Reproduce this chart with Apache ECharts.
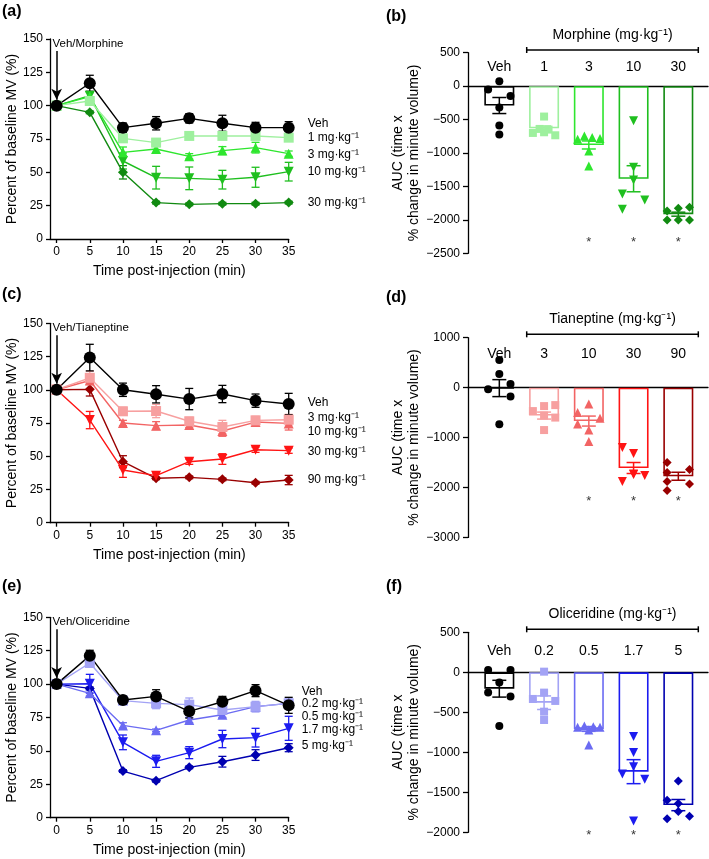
<!DOCTYPE html>
<html><head><meta charset="utf-8">
<script src="https://cdn.jsdelivr.net/npm/echarts@6/dist/echarts.min.js"></script>
<style>html,body{margin:0;padding:0;background:#fff}#c{width:709px;height:859px}</style>
</head><body><div id="c"></div>
<script>
// ================= DATA =================
const times = [0, 5, 10, 15, 20, 25, 30, 35];
const timeTicks = [0, 5, 10, 15, 20, 25, 30, 35];

// Panel (a) Morphine time course
const morphNames = ['Veh', '1 mg·kg⁻¹', '3 mg·kg⁻¹', '10 mg·kg⁻¹', '30 mg·kg⁻¹'];
const morphVeh  = [100, 116.8, 83.5, 86.8, 90.5, 86.8, 83.5, 83.5];
const morph1    = [100, 103.5, 75.5, 72.3, 77.3, 77.3, 77.3, 76];
const morph3    = [100, 106.8, 65, 67.5, 62, 66.3, 68.5, 64];
const morph10   = [100, 107.5, 58.5, 46, 45.5, 44.5, 46.3, 50.5];
const morph30   = [100, 95, 50, 27.3, 26, 26.5, 26.5, 27.3];
const morphVehSem = [0, 6, 3.5, 5, 3.5, 6, 4, 4.5];
const morph1Sem   = [0, 3, 3, 3, 2, 2, 2, 2];
const morph3Sem   = [0, 3, 4, 3, 2, 3, 4, 2];
const morph10Sem  = [0, 3, 6, 8.5, 8.5, 7, 7.5, 7];
const morph30Sem  = [0, 1, 5, 1, 1, 1, 1, 1];

// Panel (c) Tianeptine time course
const tianNames = ['Veh', '3 mg·kg⁻¹', '10 mg·kg⁻¹', '30 mg·kg⁻¹', '90 mg·kg⁻¹'];
const tianVeh = [100, 124.2, 100, 96.6, 93, 96.8, 91.8, 89.3];
const tian3   = [100, 109, 83.8, 84, 76.3, 72, 77, 77.5];
const tian10  = [100, 107, 75, 73, 73.5, 69, 75.7, 74.7];
const tian30  = [100, 77.2, 39.6, 35.4, 45.9, 47.9, 54.9, 54.2];
const tian90  = [100, 100.3, 45.9, 33.4, 34.1, 32.6, 30.1, 32.1];
const tianVehSem = [0, 10, 5, 6.5, 8, 6.5, 5, 8];
const tian3Sem   = [0, 5, 3, 5, 3, 5, 3, 4];
const tian10Sem  = [0, 3, 2, 3, 2, 4, 2, 5];
const tian30Sem  = [0, 6.5, 5.5, 2, 2, 4, 2, 2];
const tian90Sem  = [0, 5, 4.5, 1, 1, 1, 1, 3.5];

// Panel (e) Oliceridine time course
const oliNames = ['Veh', '0.2 mg·kg⁻¹', '0.5 mg·kg⁻¹', '1.7 mg·kg⁻¹', '5 mg·kg⁻¹'];
const oliVeh = [100, 121.3, 88.1, 90.8, 79.6, 86.8, 95.1, 84.1];
const oli02  = [100, 115.8, 87.6, 85.6, 84.6, 80.6, 83.1, 85.6];
const oli05  = [100, 93.1, 69.1, 65.4, 73.1, 77.1, 83.1, 85.6];
const oli17  = [100, 100.3, 56.4, 42.2, 48.7, 58.9, 59.9, 66.9];
const oli5   = [100, 96.8, 34.9, 27.7, 37.7, 41.9, 46.9, 52.4];
const oliVehSem = [0, 4, 3, 5, 5, 4, 4.5, 6];
const oli02Sem  = [0, 3, 3, 4, 5, 3, 4, 4];
const oli05Sem  = [0, 2, 2, 1, 2, 2, 2, 2];
const oli17Sem  = [0, 7, 5.5, 4.5, 4.5, 6.5, 7, 9];
const oli5Sem   = [0, 1, 1, 1, 1, 4, 4, 3];

// Panel (b) Morphine AUC
const morphCats = ['Veh', '1', '3', '10', '30'];
const morphAucMean = [-290, -630, -880, -1385, -1915];
const morphAucSem  = [120, 35, 60, 195, 30];
const morphAucPts = [
  [73, -49, -147, -318, -588, -725],
  [-455, -640, -650, -700, -690, -735],
  [-794, -745, -770, -784, -970, -1195],
  [-516, -1214, -1403, -1613, -1842, -1703],
  [-1867, -1827, -1812, -2001, -2001, -2001]];
const morphSig = ['', '', '*', '*', '*'];

// Panel (d) Tianeptine AUC
const tianCats = ['Veh', '3', '10', '30', '90'];
const tianAucMean = [-10, -560, -670, -1610, -1775];
const tianAucSem  = [170, 70, 100, 110, 80];
const tianAucPts = [
  [554, 274, -33, 73, -180, -734],
  [-470, -370, -350, -560, -600, -850],
  [-500, -327, -614, -727, -848, -1081],
  [-1200, -1320, -1880, -1730, -1760, -1740],
  [-1500, -1640, -1700, -1880, -1930, -2060]];
const tianSig = ['', '', '*', '*', '*'];

// Panel (f) Oliceridine AUC
const oliCats = ['Veh', '0.2', '0.5', '1.7', '5'];
const oliAucMean = [-205, -380, -708, -1242, -1660];
const oliAucSem  = [105, 85, 30, 150, 70];
const oliAucPts = [
  [29, 29, -129, -254, -304, -671],
  [8, -254, -333, -358, -492, -596],
  [-688, -670, -680, -688, -721, -908],
  [-804, -1004, -1180, -1271, -1338, -1858],
  [-1358, -1600, -1640, -1740, -1830, -1800]];
const oliSig = ['', '', '*', '*', '*'];

// ================= LAYOUT / STYLE =================
const FONT = '"Liberation Sans", Arial, Helvetica, sans-serif';
const SYMBOLS = ['circle', 'rect', 'triangle', 'triangle', 'diamond'];
const ROTATE  = [0, 0, 0, 180, 0];
const SYM_SIZE_LINE = [12, 10, 10, 10, 10];
const SYM_SIZE_DOT  = [8, 8, 9, 9, 9];
const GREEN = ['#000000', '#9ef09e', '#2ee62e', '#1fbf1f', '#118a11'];
const RED   = ['#000000', '#f7a0a0', '#f26464', '#ff1414', '#990000'];
const BLUE  = ['#000000', '#a3a3f5', '#6b6bf2', '#1c1cf0', '#0000b0'];

// jitter of individual dots (in units of ~11px)
const JIT_B = [[0,-1,1,0,0,0],[0,-0.4,0.4,-1,0,1],[-1,-0.4,0.3,1,0,0],[0,0,0,-1,-1,1],[-1,0,1,-1,0,1]];
const JIT_D = [[0,0,-1,1,1,0],[-1,0,1,0,1,0],[-1,0,1,-1,0,0],[-1,0,-1,0,1,0],[-1,1,-1,-1,1,-1]];
const JIT_F = [[-1,1,0,-1,1,0],[0,0,-1,1,0,0],[-1,-0.4,0.4,1,0,0],[0,0,0,-1,1,0],[0,-1,0,0,-1,1]];

const LINE_W = 238.7;
const LINE_GRIDS = [
  {left: 50, top: 39, height: 200},
  {left: 50, top: 323.3, height: 199.4},
  {left: 50, top: 617.3, height: 200.4}];
const BAR_W = 240, BAR_STEP = 44.75, BAR_MIN = -0.7;
const BAR_GRIDS = [
  {left: 468, top: 52.7, height: 200.6, min: -2500, max: 500, interval: 500, labelMargin: 7, sigY: -2341},
  {left: 468, top: 337.7, height: 199.7, min: -3000, max: 1000, interval: 1000, labelMargin: 9, sigY: -2285},
  {left: 468, top: 632.3, height: 200, min: -2000, max: 500, interval: 500, labelMargin: 12, sigY: -2042}];
const ARROW = [141, 104.5];
const END_LABEL_DY = [
  [-4, 0, 1, 0, 0],
  [-1, -2, 8, 1, 0],
  [-14, 0, 13, 1, -2]];
const END_LABEL_DIST = [19, 19, 13];

// ================= BUILD =================
const chart = echarts.init(document.getElementById('c'), null, {renderer: 'canvas'});
const axisLineStyle = {color: '#000', width: 1.3};
const txt = (size, extra) => Object.assign({color: '#000', fontSize: size, fontFamily: FONT}, extra || {});

const grids = [], xAxes = [], yAxes = [], series = [];

const linePanels = [
  {means: [morphVeh, morph1, morph3, morph10, morph30], sems: [morphVehSem, morph1Sem, morph3Sem, morph10Sem, morph30Sem], names: morphNames, colors: GREEN},
  {means: [tianVeh, tian3, tian10, tian30, tian90], sems: [tianVehSem, tian3Sem, tian10Sem, tian30Sem, tian90Sem], names: tianNames, colors: RED},
  {means: [oliVeh, oli02, oli05, oli17, oli5], sems: [oliVehSem, oli02Sem, oli05Sem, oli17Sem, oli5Sem], names: oliNames, colors: BLUE}];

function errRender(colors, capHalf, lw) {
  return function (params, api) {
    const x = api.value(0), m = api.value(1), s = api.value(2), k = api.value(3);
    if (!s) return null;
    const t = api.coord([x, m + s]), b = api.coord([x, m - s]);
    const st = {stroke: colors[k], lineWidth: lw};
    return {type: 'group', children: [
      {type: 'line', shape: {x1: t[0], y1: t[1], x2: b[0], y2: b[1]}, style: st},
      {type: 'line', shape: {x1: t[0] - capHalf, y1: t[1], x2: t[0] + capHalf, y2: t[1]}, style: st},
      {type: 'line', shape: {x1: b[0] - capHalf, y1: b[1], x2: b[0] + capHalf, y2: b[1]}, style: st}]};
  };
}

linePanels.forEach((p, pi) => {
  const g = LINE_GRIDS[pi];
  const gi = grids.length;
  grids.push({left: g.left, top: g.top, width: LINE_W, height: g.height});
  const xi = xAxes.length;
  xAxes.push({gridIndex: gi, type: 'value', min: -1, max: 35,
    axisLine: {show: true, onZero: false, lineStyle: axisLineStyle},
    axisTick: {show: true, customValues: timeTicks, length: 4, lineStyle: axisLineStyle},
    axisLabel: {customValues: timeTicks, margin: 7, ...txt(12)},
    splitLine: {show: false},
    name: 'Time post-injection (min)', nameLocation: 'middle', nameGap: 25, nameTextStyle: txt(14)});
  const yi = yAxes.length;
  yAxes.push({gridIndex: gi, type: 'value', min: 0, max: 150, interval: 25,
    axisLine: {show: true, onZero: false, lineStyle: axisLineStyle},
    axisTick: {show: true, length: 4, lineStyle: axisLineStyle},
    axisLabel: {margin: 7, ...txt(12)},
    splitLine: {show: false},
    name: 'Percent of baseline MV (%)', nameLocation: 'middle', nameGap: 31, nameTextStyle: txt(14)});
  for (let k = p.means.length - 1; k >= 0; k--) {
    series.push({type: 'custom', xAxisIndex: xi, yAxisIndex: yi, z: 2, silent: true,
      renderItem: errRender(p.colors, 4, 1.3),
      data: times.map((t, i) => [t, p.means[k][i], p.sems[k][i], k])});
  }
  for (let k = p.means.length - 1; k >= 0; k--) {
    const s = {type: 'line', name: p.names[k], xAxisIndex: xi, yAxisIndex: yi, z: 3,
      data: times.map((t, i) => [t, p.means[k][i]]),
      symbol: SYMBOLS[k], symbolRotate: ROTATE[k], symbolSize: SYM_SIZE_LINE[k],
      lineStyle: {color: p.colors[k], width: 1.4}, itemStyle: {color: p.colors[k]},
      animation: false, silent: true,
      endLabel: {show: true, formatter: p.names[k], distance: END_LABEL_DIST[pi],
        offset: [0, END_LABEL_DY[pi][k]], ...txt(12)}};
    if (k === 0) {
      s.markLine = {silent: true, symbol: ['none', 'arrow'], symbolSize: [8, 11], animation: false,
        lineStyle: {color: '#000', width: 1.5, type: 'solid'}, label: {show: false},
        data: [[{coord: [0, ARROW[0]]}, {coord: [0, ARROW[1]]}]]};
    }
    series.push(s);
  }
});

const barPanels = [
  {cats: morphCats, mean: morphAucMean, sem: morphAucSem, pts: morphAucPts, sig: morphSig, jit: JIT_B, colors: GREEN},
  {cats: tianCats, mean: tianAucMean, sem: tianAucSem, pts: tianAucPts, sig: tianSig, jit: JIT_D, colors: RED},
  {cats: oliCats, mean: oliAucMean, sem: oliAucSem, pts: oliAucPts, sig: oliSig, jit: JIT_F, colors: BLUE}];

const minus = v => String(v).replace('-', '\u2212');

barPanels.forEach((p, pi) => {
  const g = BAR_GRIDS[pi];
  const gi = grids.length;
  grids.push({left: g.left, top: g.top, width: BAR_W, height: g.height});
  const xi = xAxes.length;
  xAxes.push({gridIndex: gi, type: 'value', min: BAR_MIN, max: BAR_MIN + BAR_W / BAR_STEP,
    axisLine: {show: true, onZero: true, lineStyle: axisLineStyle},
    axisTick: {show: false}, axisLabel: {show: false}, splitLine: {show: false}});
  // category labels along the top of the panel
  xAxes.push({gridIndex: gi, type: 'value', position: 'top', min: BAR_MIN, max: BAR_MIN + BAR_W / BAR_STEP,
    axisLine: {show: false}, axisTick: {show: false},
    axisLabel: {inside: true, customValues: [0, 1, 2, 3, 4], formatter: v => p.cats[Math.round(v)],
      margin: g.labelMargin, ...txt(14)},
    splitLine: {show: false}});
  const yi = yAxes.length;
  yAxes.push({gridIndex: gi, type: 'value', min: g.min, max: g.max, interval: g.interval,
    axisLine: {show: true, onZero: false, lineStyle: axisLineStyle},
    axisTick: {show: true, length: 5, lineStyle: axisLineStyle},
    axisLabel: {margin: 8, formatter: minus, ...txt(12)},
    splitLine: {show: false},
    name: 'AUC (time x\n% change in minute volume)', nameLocation: 'middle', nameGap: 44,
    nameTextStyle: txt(14, {lineHeight: 16})});
  series.push({type: 'bar', xAxisIndex: xi, yAxisIndex: yi, barWidth: 30, z: 2, silent: true, animation: false,
    data: p.mean.map((m, i) => ({value: [i, m], itemStyle: {color: '#fff', borderColor: p.colors[i], borderWidth: 1.6}}))});
  p.pts.forEach((arr, i) => {
    series.push({type: 'scatter', xAxisIndex: xi, yAxisIndex: yi, z: 3, silent: true, animation: false,
      symbol: SYMBOLS[i], symbolRotate: ROTATE[i], symbolSize: SYM_SIZE_DOT[i],
      itemStyle: {color: p.colors[i], opacity: 1},
      data: arr.map((v, j) => [i + p.jit[i][j] * 0.25, v])});
  });
  series.push({type: 'custom', xAxisIndex: xi, yAxisIndex: yi, z: 4, silent: true,
    renderItem: errRender(p.colors, 7, 1.5),
    data: p.mean.map((m, i) => [i, m, p.sem[i], i])});
  series.push({type: 'scatter', xAxisIndex: xi, yAxisIndex: yi, z: 4, silent: true, clip: false,
    symbolSize: 0, animation: false,
    label: {show: true, position: 'inside', formatter: d => d.data[2], ...txt(13)},
    data: p.sig.map((s, i) => [i, g.sigY, s]).filter(d => d[2])});
});

// annotations
const graphic = [];
const panelLetters = [['(a)', 2, 12], ['(b)', 386, 17], ['(c)', 2, 295], ['(d)', 386, 298], ['(e)', 2, 587], ['(f)', 386, 587]];
panelLetters.forEach(([t, x, y]) => graphic.push({type: 'text', x: x, y: y,
  style: {text: t, fill: '#000', font: 'bold 16px ' + FONT, textAlign: 'left', textVerticalAlign: 'middle'}}));
const drugTexts = [['Veh/Morphine', 44], ['Veh/Tianeptine', 327.5], ['Veh/Oliceridine', 622]];
drugTexts.forEach(([t, y]) => graphic.push({type: 'text', x: 52.5, y: y,
  style: {text: t, fill: '#000', font: '11.5px ' + FONT, textAlign: 'left', textVerticalAlign: 'middle'}}));
const brackets = [['Morphine (mg·kg⁻¹)', 50, 35], ['Tianeptine (mg·kg⁻¹)', 334.3, 319.5], ['Oliceridine (mg·kg⁻¹)', 629.3, 614.5]];
brackets.forEach(([t, y, ty]) => {
  const x1 = 526.7, x2 = 698.3;
  const st = {stroke: '#000', lineWidth: 1.5};
  graphic.push({type: 'line', shape: {x1: x1, y1: y, x2: x2, y2: y}, style: st});
  graphic.push({type: 'line', shape: {x1: x1, y1: y - 3, x2: x1, y2: y + 3}, style: st});
  graphic.push({type: 'line', shape: {x1: x2, y1: y - 3, x2: x2, y2: y + 3}, style: st});
  graphic.push({type: 'text', x: (x1 + x2) / 2, y: ty,
    style: {text: t, fill: '#000', font: '14px ' + FONT, textAlign: 'center', textVerticalAlign: 'middle'}});
});

chart.setOption({
  animation: false,
  backgroundColor: '#fff',
  textStyle: {fontFamily: FONT},
  grid: grids, xAxis: xAxes, yAxis: yAxes, series: series, graphic: graphic
});
</script></body></html>
